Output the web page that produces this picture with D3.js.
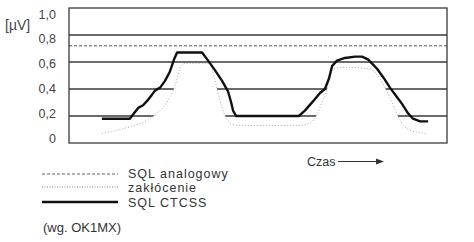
<!DOCTYPE html>
<html><head><meta charset="utf-8">
<script src="https://cdn.jsdelivr.net/npm/d3@7"></script>
<style>
html,body{margin:0;padding:0;background:#fff;}
svg{display:block;font-family:Arial,"Liberation Sans",sans-serif;}
</style></head>
<body><svg id="c" width="474" height="242"></svg>
<script>
// Time axis (arbitrary units 0..100) and voltage values [µV]
const ctcssTime = [8.7,16.1,17.2,18.3,19.6,20.6,22.0,22.8,24.1,25.4,26.7,27.8,28.6,35.2,36.8,38.6,40.5,42.1,42.9,43.4,44.2,60.8,62.4,64.6,66.4,67.7,68.8,69.6,70.9,73.0,75.7,77.5,79.1,81.5,83.3,84.9,86.5,88.1,89.7,91.0,92.9,95.0];
const ctcssValue = [0.18,0.18,0.22,0.26,0.28,0.31,0.36,0.39,0.41,0.46,0.53,0.62,0.67,0.67,0.61,0.54,0.46,0.38,0.30,0.24,0.20,0.20,0.24,0.31,0.37,0.40,0.48,0.57,0.61,0.63,0.64,0.64,0.62,0.55,0.48,0.41,0.35,0.29,0.22,0.18,0.16,0.16];
const noiseTime = [8.7,12.2,14.8,19.3,21.4,23.3,25.4,26.7,28.0,28.8,29.6,30.7,37.3,38.1,38.9,39.7,40.5,41.5,43.1,45.2,61.1,63.8,65.6,66.9,68.3,69.0,70.1,73.0,79.6,81.7,83.6,85.2,87.0,88.9,90.7,94.7];
const noiseValue = [0.07,0.09,0.11,0.15,0.18,0.22,0.28,0.34,0.42,0.50,0.57,0.59,0.59,0.52,0.43,0.34,0.26,0.19,0.14,0.13,0.13,0.15,0.21,0.30,0.40,0.50,0.55,0.56,0.55,0.50,0.41,0.32,0.20,0.12,0.09,0.07];
const analogThreshold = 0.72;
const gridValues = [0.2,0.4,0.6,0.8];
const tickValues = [0,0.2,0.4,0.6,0.8,1.0];
const tickLabels = ["0","0,2","0,4","0,6","0,8","1,0"];
const unitLabel = "[µV]";
const timeLabel = "Czas";
const legendLabels = ["SQL analogowy","zakłócenie","SQL CTCSS"];
const sourceLabel = "(wg. OK1MX)";

const svg = d3.select("#c");
const L=69, R=447, T=8, B=143;
const x = d3.scaleLinear().domain([0,100]).range([L,R]);
const y = d3.scaleLinear().domain([0,1]).range([B,T]);
const yLab = d3.scaleLinear().domain([0,1]).range([138,14]);

// grid lines
svg.append("g").selectAll("line").data(gridValues).join("line")
  .attr("x1",L).attr("x2",R).attr("y1",d=>y(d)).attr("y2",d=>y(d))
  .attr("stroke","#3a3a3a").attr("stroke-width",1.3);
// analog squelch threshold (dashed)
svg.append("line").attr("x1",L).attr("x2",R).attr("y1",y(analogThreshold)).attr("y2",y(analogThreshold))
  .attr("stroke","#555").attr("stroke-width",1).attr("stroke-dasharray","3,2");

const noise = noiseTime.map((t,i)=>({t,v:noiseValue[i]}));
const ctcss = ctcssTime.map((t,i)=>({t,v:ctcssValue[i]}));

// white area under noise hides grid lines
svg.append("path").datum(noise)
  .attr("d",d3.area().x(d=>x(d.t)).y0(y(0)).y1(d=>y(d.v)).curve(d3.curveMonotoneX))
  .attr("fill","#fff");
svg.append("path").datum(noise)
  .attr("d",d3.line().x(d=>x(d.t)).y(d=>y(d.v)).curve(d3.curveMonotoneX))
  .attr("fill","none").attr("stroke","#aaa").attr("stroke-width",1).attr("stroke-dasharray","1,2");

// frame
svg.append("rect").attr("x",L).attr("y",T).attr("width",R-L).attr("height",B-T)
  .attr("fill","none").attr("stroke","#3a3a3a").attr("stroke-width",1.3);

// CTCSS line
svg.append("path").datum(ctcss)
  .attr("d",d3.line().x(d=>x(d.t)).y(d=>y(d.v)))
  .attr("fill","none").attr("stroke","#111").attr("stroke-width",2.4).attr("stroke-linejoin","round");

// y labels
const ax = svg.append("g").attr("transform",`translate(56,0)`)
  .call(d3.axisLeft(yLab).tickValues(tickValues).tickSize(0).tickPadding(0).tickFormat((d,i)=>tickLabels[i]));
ax.select(".domain").remove();
ax.selectAll("text").attr("font-size",12.5).attr("fill","#444").attr("font-family","Arial,'Liberation Sans',sans-serif");

svg.append("text").attr("x",5).attr("y",30).attr("font-size",14).attr("fill","#444").text(unitLabel);

// time label and arrow
svg.append("text").attr("x",307).attr("y",166).attr("font-size",12.5).attr("fill","#333").text(timeLabel);
svg.append("line").attr("x1",338).attr("x2",378).attr("y1",161.5).attr("y2",161.5).attr("stroke","#333").attr("stroke-width",1);
svg.append("path").attr("d","M384,161.5 L376,158.5 L376,164.5 Z").attr("fill","#333");

// legend
const lg = svg.append("g");
const ly=[174,187,202];
lg.append("line").attr("x1",42).attr("x2",118).attr("y1",ly[0]).attr("y2",ly[0]).attr("stroke","#666").attr("stroke-width",1).attr("stroke-dasharray","3,2");
lg.append("line").attr("x1",42).attr("x2",118).attr("y1",ly[1]).attr("y2",ly[1]).attr("stroke","#888").attr("stroke-width",1).attr("stroke-dasharray","1,1.5");
lg.append("line").attr("x1",42).attr("x2",118).attr("y1",ly[2]).attr("y2",ly[2]).attr("stroke","#111").attr("stroke-width",2.6);
lg.selectAll("text").data(legendLabels).join("text")
  .attr("x",128).attr("y",(d,i)=>[178,192,207][i]).attr("font-size",12.5).attr("fill","#333").attr("letter-spacing",1).text(d=>d);
svg.append("text").attr("x",43).attr("y",232).attr("font-size",13).attr("fill","#333").text(sourceLabel);
</script></body></html>
